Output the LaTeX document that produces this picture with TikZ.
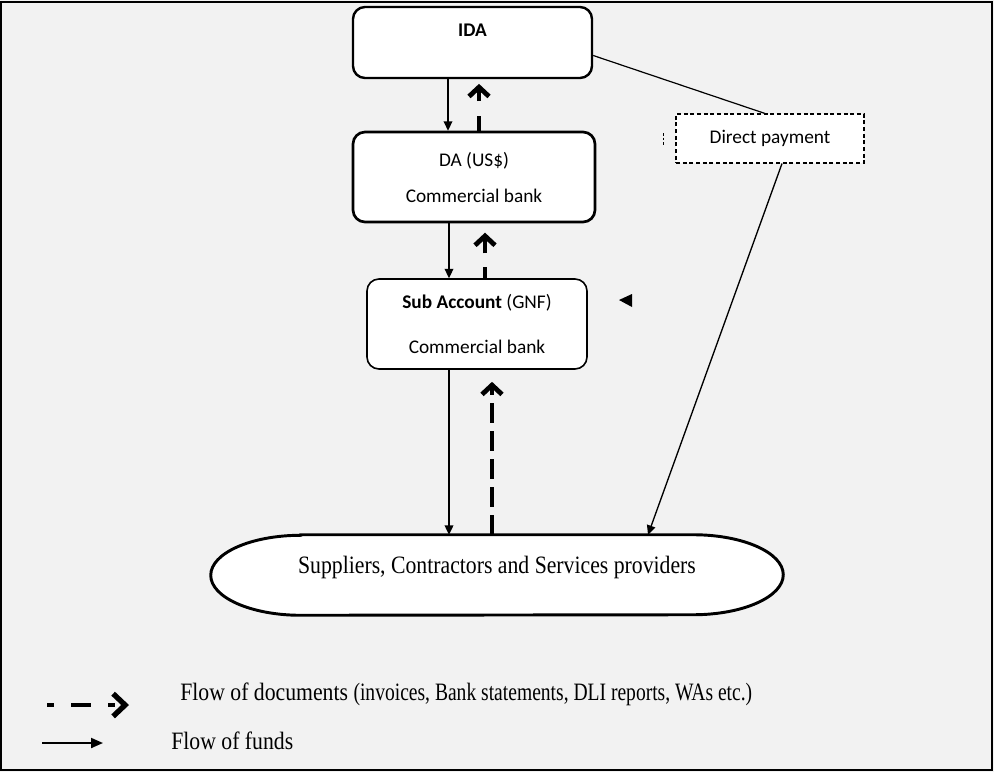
\documentclass[tikz,border=0pt]{standalone}
\usepackage{fontspec}
\setmainfont{Liberation Serif}
\newfontfamily\calfont{Carlito}
\usetikzlibrary{arrows.meta,calc}
\definecolor{bgc}{HTML}{F2F2F2}
\begin{document}
\begin{tikzpicture}[x=0.75pt,y=-0.75pt,
  box/.style={draw, fill=white, rounded corners=9pt, line width=1.8pt,
    font=\calfont\fontsize{14.5}{17}\selectfont, align=center, inner sep=0pt},
  funds/.style={line width=1pt, -{Triangle[length=7pt,width=6.5pt]}},
  docline/.style={line width=3pt},
  docs/.style={docline, dash pattern=on 15pt off 6pt,
    -{Straight Barb[length=7pt,width=15pt,line width=3.6pt]}},
  dochead/.style={docline, -{Straight Barb[length=7pt,width=15pt,line width=3.6pt]}},
  serif/.style={font=\fontsize{16.3}{19}\selectfont, inner sep=0pt},
]
\useasboundingbox (0,0) rectangle (994,772);
\fill[bgc] (0,0) rectangle (994,772);
\draw[line width=1.5pt] (1,2) rectangle (992,770);

% boxes
\node[box, minimum width=179.25pt, minimum height=53.25pt] (ida) at (472.5,42.5) {};
\node[font=\calfont\fontsize{14.5}{17}\selectfont\bfseries, inner sep=0pt] (idat) at (472.5,30) {IDA};
\node[box, line width=2pt, minimum width=181.5pt, minimum height=67.5pt] (da) at (474,177)
  {DA (US\$)\\[10pt]Commercial bank};
\node[box, line width=1.2pt, minimum width=165pt, minimum height=67.5pt] (sub) at (477,324)
  {\textbf{Sub Account} (GNF)\\[16.75pt]Commercial bank};
\node[draw, fill=white, line width=0.8pt, dash pattern=on 3pt off 2pt,
  font=\calfont\fontsize{14.5}{17}\selectfont, minimum width=141pt, minimum height=36.75pt,
  inner sep=0pt] (dp) at (770,138.5) {\raisebox{3pt}{Direct payment}};

% suppliers shape
\node[minimum width=429pt, minimum height=60pt, inner sep=0pt] (sup) at (497,575) {};
\draw[line width=2.2pt, fill=white]
  ($(sup.north west)+(90,0)$) -- ($(sup.north east)+(-90,0)$)
  arc[start angle=90, end angle=-90, x radius=67.5pt, y radius=30pt]
  -- ($(sup.south west)+(90,0)$)
  arc[start angle=270, end angle=90, x radius=67.5pt, y radius=30pt] -- cycle;
\node[serif] (suptext) at (497,567)
  {\scalebox{1}[1.15]{Suppliers, Contractors and Services providers}};

% anchor points for the vertical connectors
\coordinate (c1) at ($(ida.south)+(-24.5,0)$);
\coordinate (c2) at ($(da.north)+(5,0)$);
\coordinate (c3) at ($(da.south)+(-25,0)$);
\coordinate (c4) at ($(sub.north)+(8,0)$);
\coordinate (c5) at ($(sub.south)+(-28,0)$);
\coordinate (c6) at ($(sup.north)+(-5,0)$);

% flows between IDA and DA
\draw[funds] (c1) -- (c1 |- da.north);
\draw[docline] (c2) -- ++(0,-15);
\draw[dochead, shorten >=3.5pt] ($(c2 |- ida.south)+(0,22)$) -- (c2 |- ida.south);
% flows between DA and Sub
\draw[funds] (c3) -- (c3 |- sub.north);
\draw[docline] (c4) -- ++(0,-11);
\draw[dochead, shorten >=7pt] ($(c4 |- da.south)+(0,30)$) -- (c4 |- da.south);
% flows between Sub and suppliers
\draw[funds] (c5) -- (c5 |- sup.north);
\draw[docs, shorten >=9pt] (c6) -- (c6 |- sub.south);

% direct payment
\draw[line width=0.9pt] ($(ida.east)+(0,13)$) -- ($(dp.north)+(-5,0)$);
\draw[funds] ($(dp.south)+(12,0)$) -- ($(sup.north)+(151,0)$);
\draw[line width=0.6pt, dash pattern=on 2pt off 1.5pt] (663,133) -- (663,145);

% stray arrowhead
\fill (619,300) -- (632,294) -- (632,307) -- cycle;

% legend
\coordinate (ld1) at (47,705);
\coordinate (ld2) at (129,705);
\draw[line width=3.2pt, dash pattern=on 5pt off 13pt on 15pt off 13pt,
  -{Straight Barb[length=9pt,width=17pt,line width=4pt]}] (ld1) -- (ld2);
\node[serif, anchor=west] (ldt) at (180,694)
  {\scalebox{1}[1.15]{Flow of documents} \scalebox{0.9}[1.15]{(invoices, Bank statements, DLI reports, WAs etc.)}};
\coordinate (lf1) at (42,743);
\coordinate (lf2) at (103,743);
\draw[line width=1.5pt, -{Triangle[length=9pt,width=7.5pt]}] (lf1) -- (lf2);
\node[serif, anchor=west] (lft) at (171,741) {\scalebox{1}[1.15]{Flow of funds}};
\end{tikzpicture}
\end{document}
